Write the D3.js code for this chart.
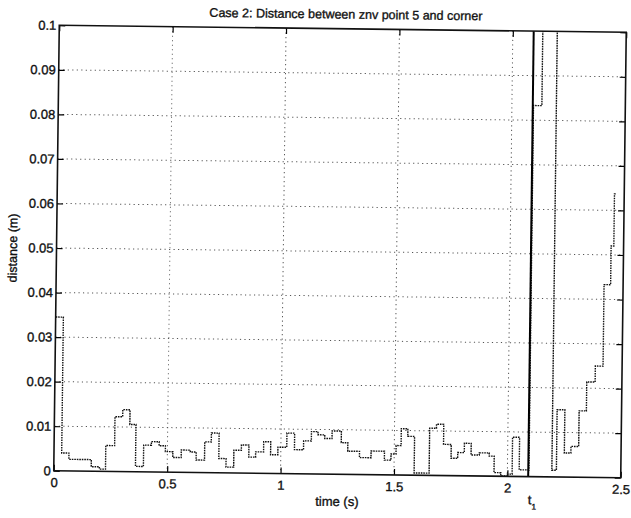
<!DOCTYPE html>
<html>
<head>
<meta charset="utf-8">
<script src="https://cdn.jsdelivr.net/npm/d3@7"></script>
<style>
  body { margin: 0; background: #fff; }
  svg { display: block; }
  text { font-family: "Liberation Sans", Arial, Helvetica, sans-serif; fill: #111; stroke: #111; stroke-width: 0.35px; }
</style>
</head>
<body>
<svg id="chart" width="631" height="518"></svg>
<script>
// step series: start time of each step (s) and its value (m)
const stepTimes = [0.000, 0.034, 0.066, 0.165, 0.201, 0.228, 0.267, 0.301, 0.333, 0.360,
  0.395, 0.429, 0.463, 0.491, 0.524, 0.561, 0.601, 0.627, 0.664, 0.693,
  0.727, 0.759, 0.793, 0.826, 0.859, 0.889, 0.924, 0.955, 0.987, 1.026,
  1.060, 1.100, 1.134, 1.163, 1.193, 1.225, 1.266, 1.295, 1.347, 1.398,
  1.457, 1.486, 1.508, 1.530, 1.559, 1.589, 1.655, 1.685, 1.717, 1.751,
  1.780, 1.809, 1.839, 1.875, 1.919, 1.941, 1.971, 2.000, 2.021, 2.052,
  2.095, 2.132, 2.196, 2.216, 2.250, 2.279, 2.313, 2.345, 2.382, 2.416,
  2.445, 2.457];
const stepValues = [0.0345, 0.0040, 0.0026, 0.0010, 0.0005, 0.0058, 0.0123, 0.0139, 0.0106, 0.0012,
  0.0060, 0.0068, 0.0059, 0.0046, 0.0033, 0.0050, 0.0046, 0.0028, 0.0069, 0.0089,
  0.0032, 0.0013, 0.0051, 0.0063, 0.0036, 0.0048, 0.0071, 0.0042, 0.0059, 0.0091,
  0.0054, 0.0074, 0.0095, 0.0088, 0.0080, 0.0097, 0.0071, 0.0052, 0.0038, 0.0053,
  0.0033, 0.0047, 0.0066, 0.0104, 0.0087, 0.0005, 0.0106, 0.0115, 0.0070, 0.0039,
  0.0052, 0.0073, 0.0047, 0.0052, 0.0045, 0.0008, 0.0001, 0.0005, 0.0088, 0.0015,
  0.0833, 0.1200, 0.0015, 0.0151, 0.0054, 0.0069, 0.0149, 0.0214, 0.0250, 0.0433,
  0.0520, 0.0637];
const endTime = 2.466;
const t1Time = 2.092;

const xTicks = [0, 0.5, 1, 1.5, 2, 2.5];
const yTicks = [0, 0.01, 0.02, 0.03, 0.04, 0.05, 0.06, 0.07, 0.08, 0.09, 0.1];
const titleText = 'Case 2: Distance between znv point 5 and corner';
const xLabel = 'time (s)';
const yLabel = 'distance (m)';

const svg = d3.select('#chart');
const width = +svg.attr('width');
const height = +svg.attr('height');
const margin = { top: 28.75, right: 7.5, bottom: 43.75, left: 56.5 };
const innerWidth = width - margin.left - margin.right;
const innerHeight = height - margin.top - margin.bottom;

// the scanned page is a little skewed, so the whole figure is turned slightly
const root = svg.append('g').attr('transform', 'rotate(0.71,340,251.5)');
const g = root.append('g').attr('transform', `translate(${margin.left},${margin.top})`);

const x = d3.scaleLinear().domain([0, 2.5]).range([0, innerWidth]);
const y = d3.scaleLinear().domain([0, 0.1]).range([innerHeight, 0]);

// dotted grid
g.append('g').selectAll('line').data(xTicks.slice(1, -1)).enter().append('line')
  .attr('x1', d => x(d)).attr('x2', d => x(d)).attr('y1', 0).attr('y2', innerHeight)
  .attr('stroke', '#555').attr('stroke-width', 1).attr('stroke-dasharray', '1.2,3.3');
g.append('g').selectAll('line').data(yTicks.slice(1, -1)).enter().append('line')
  .attr('y1', d => y(d)).attr('y2', d => y(d)).attr('x1', 0).attr('x2', innerWidth)
  .attr('stroke', '#555').attr('stroke-width', 1).attr('stroke-dasharray', '1.2,3.3');

// data
g.append('clipPath').attr('id', 'clip').append('rect')
  .attr('width', innerWidth).attr('height', innerHeight);

const pts = stepTimes.map((t, i) => [t, stepValues[i]]);
pts.push([endTime, stepValues[stepValues.length - 1]]);
const line = d3.line().x(d => x(d[0])).y(d => y(d[1])).curve(d3.curveStepAfter);

g.append('path').datum(pts)
  .attr('clip-path', 'url(#clip)')
  .attr('d', line)
  .attr('fill', 'none').attr('stroke', '#111').attr('stroke-width', 1.4)
  .attr('stroke-dasharray', '1.6,0.9');

// t1 marker
g.append('line')
  .attr('x1', x(t1Time)).attr('x2', x(t1Time)).attr('y1', 0).attr('y2', innerHeight)
  .attr('stroke', '#000').attr('stroke-width', 2);

// axes, MATLAB style ticks pointing inward on all four sides
const fmt = d3.format('');
const xAxis = g.append('g').attr('transform', `translate(0,${innerHeight})`)
  .call(d3.axisBottom(x).tickValues(xTicks).tickFormat(fmt).tickSize(-6).tickPadding(7));
const yAxis = g.append('g')
  .call(d3.axisLeft(y).tickValues(yTicks).tickFormat(fmt).tickSize(-6).tickPadding(3));
const xTop = g.append('g')
  .call(d3.axisTop(x).tickValues(xTicks).tickSize(-6));
const yRight = g.append('g').attr('transform', `translate(${innerWidth},0)`)
  .call(d3.axisRight(y).tickValues(yTicks).tickSize(-6));
xTop.selectAll('text').remove();
yRight.selectAll('text').remove();

[xAxis, yAxis, xTop, yRight].forEach(a => {
  a.select('.domain').remove();
  a.selectAll('.tick line').attr('stroke', '#000').attr('stroke-width', 1.2);
  a.selectAll('text').attr('font-size', 13).attr('fill', '#111')
    .attr('font-family', '"Liberation Sans", Arial, sans-serif');
});

g.append('rect').attr('width', innerWidth).attr('height', innerHeight)
  .attr('fill', 'none').attr('stroke', '#111').attr('stroke-width', 1.6);

// labels
root.append('text').attr('x', 343).attr('y', 18.5).attr('text-anchor', 'middle')
  .attr('font-size', 12.5).text(titleText);
root.append('text').attr('x', 340).attr('y', 506).attr('text-anchor', 'middle')
  .attr('font-size', 13).text(xLabel);
root.append('text').attr('transform', 'translate(17,252) rotate(-90)').attr('text-anchor', 'middle')
  .attr('font-size', 12.5).text(yLabel);

const t1 = root.append('text').attr('x', margin.left + x(t1Time)).attr('y', 502).attr('font-size', 13);
t1.append('tspan').text('t');
t1.append('tspan').attr('font-size', 8).attr('dy', 5).text('1');
</script>
</body>
</html>
